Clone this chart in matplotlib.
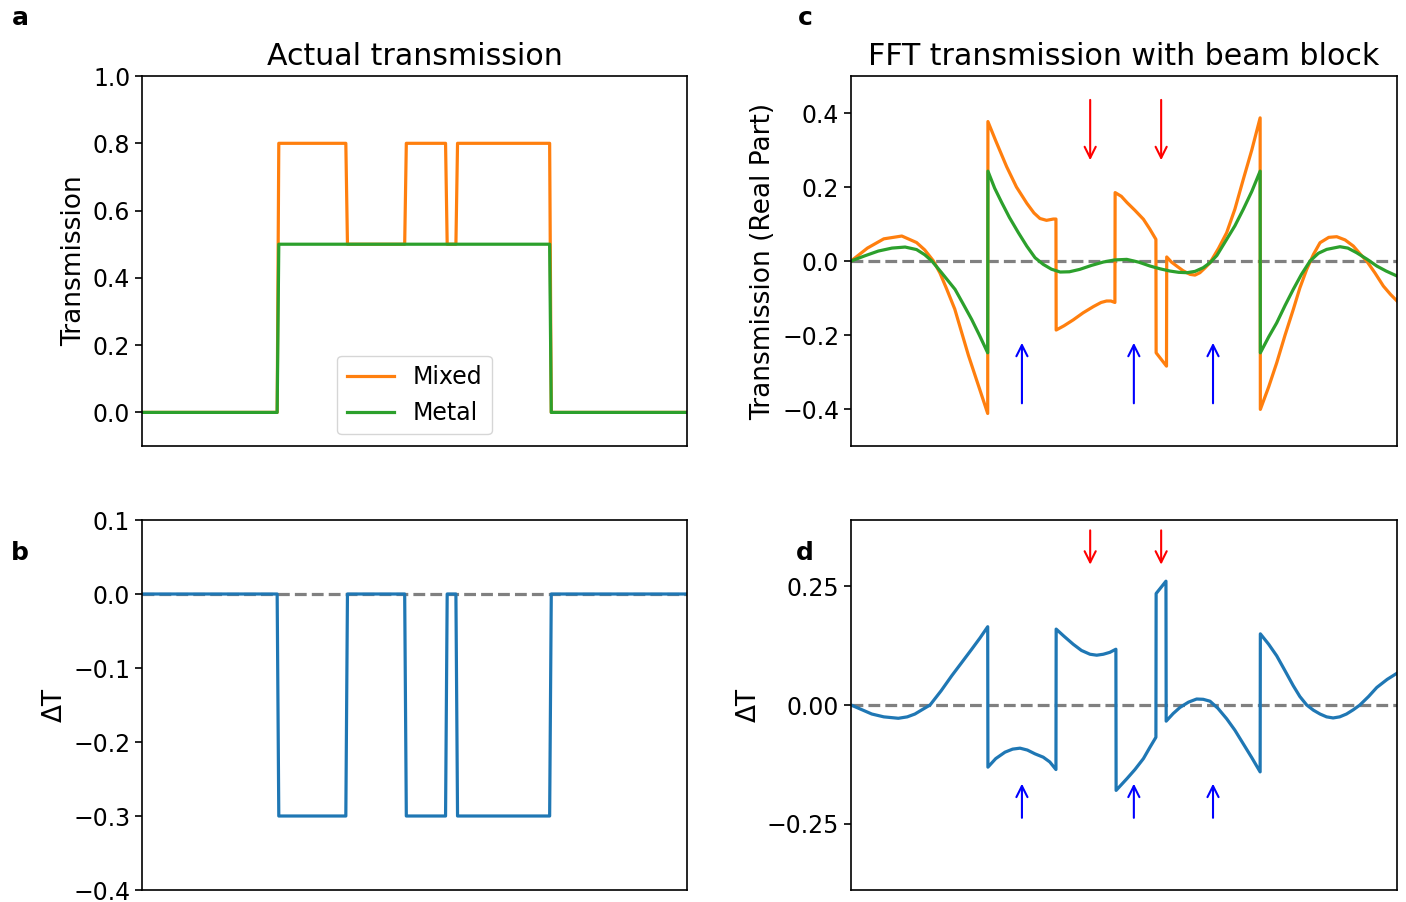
import numpy as np
import matplotlib
matplotlib.use("Agg")
import matplotlib.pyplot as plt

# ---- data (x is position across the sample, 0..1) ----

# panel a: actual transmission
x_actual = [0.0, 0.248, 0.251, 0.374, 0.377, 0.482, 0.485, 0.557, 0.560,
            0.576, 0.579, 0.748, 0.751, 1.0]
mixed_actual = [0.0, 0.0, 0.8, 0.8, 0.5, 0.5, 0.8, 0.8, 0.5,
                0.5, 0.8, 0.8, 0.0, 0.0]
metal_actual = [0.0, 0.0, 0.5, 0.5, 0.5, 0.5, 0.5, 0.5, 0.5,
                0.5, 0.5, 0.5, 0.0, 0.0]

# panel b: difference metal - mixed
delta_actual = [0.0, 0.0, -0.3, -0.3, 0.0, 0.0, -0.3, -0.3, 0.0,
                0.0, -0.3, -0.3, 0.0, 0.0]

# panel c: FFT transmission with beam block (real part)
x_mixed_fft = [0.0, 0.03, 0.06, 0.093, 0.12, 0.135, 0.151, 0.163, 0.175, 0.19, 0.215, 0.2503,
               0.2507, 0.265, 0.285, 0.303, 0.322, 0.335, 0.346, 0.358, 0.3705, 0.3753,
               0.3757, 0.39, 0.407, 0.425, 0.444, 0.458, 0.468, 0.476, 0.4833,
               0.4837, 0.495, 0.5055, 0.52, 0.5355, 0.547, 0.5584,
               0.5588, 0.5778,
               0.5782, 0.587, 0.5965, 0.608, 0.621, 0.63, 0.639, 0.648, 0.6575,
               0.673, 0.688, 0.703, 0.7185, 0.734, 0.7493,
               0.7497, 0.765, 0.7797, 0.795, 0.81, 0.822, 0.8346, 0.847, 0.859,
               0.875, 0.8896, 0.905, 0.92, 0.932, 0.9445, 0.96, 0.975, 0.988, 1.0]
y_mixed_fft = [0.0, 0.035, 0.060, 0.0676, 0.050, 0.03, 0.0, -0.033, -0.075, -0.13, -0.255, -0.412,
               0.377, 0.325, 0.255, 0.2, 0.156, 0.13, 0.115, 0.110, 0.1135, 0.1135,
               -0.1865, -0.175, -0.159, -0.14, -0.123, -0.112, -0.108, -0.108, -0.112,
               0.185, 0.175, 0.158, 0.137, 0.113, 0.087, 0.0586,
               -0.248, -0.284,
               0.011, -0.003, -0.0135, -0.026, -0.036, -0.038, -0.0315, -0.019, -0.0045,
               0.034, 0.0766, 0.14, 0.221, 0.30, 0.387,
               -0.401, -0.34, -0.275, -0.2, -0.131, -0.073, -0.0225, 0.018, 0.0495,
               0.064, 0.0658, 0.057, 0.0405, 0.02, 0.0, -0.033, -0.0676, -0.09, -0.108]

x_metal_fft = [0.0, 0.025, 0.05, 0.075, 0.099, 0.12, 0.135, 0.148, 0.165, 0.1905, 0.205, 0.221,
               0.235, 0.2503,
               0.2507, 0.263, 0.276, 0.29, 0.3065, 0.322, 0.337, 0.352, 0.367, 0.383, 0.40,
               0.419, 0.44, 0.462, 0.483, 0.505, 0.527, 0.5476, 0.566, 0.584, 0.60, 0.615,
               0.63, 0.645, 0.6575, 0.67, 0.688, 0.703, 0.7185, 0.734, 0.7493,
               0.7497, 0.765, 0.7797, 0.795, 0.81, 0.825, 0.8407, 0.856, 0.8712, 0.8956,
               0.91, 0.926, 0.945, 0.963, 0.98, 1.0]
y_metal_fft = [0.0, 0.014, 0.027, 0.035, 0.0378, 0.031, 0.017, 0.0, -0.03, -0.0766, -0.115, -0.158,
               -0.2, -0.248,
               0.243, 0.197, 0.158, 0.118, 0.0766, 0.04, 0.009, -0.009, -0.022, -0.0297, -0.029,
               -0.0225, -0.012, -0.0027, 0.003, 0.0045, -0.003, -0.0135, -0.021, -0.027, -0.0305, -0.0315,
               -0.028, -0.018, -0.0045, 0.015, 0.0586, 0.095, 0.14, 0.188, 0.243,
               -0.248, -0.205, -0.167, -0.12, -0.0766, -0.036, 0.0, 0.021, 0.0315, 0.0387,
               0.035, 0.0225, 0.005, -0.0135, -0.027, -0.0405]

# panel d: difference of the filtered transmissions
x_delta_fft = [0.0, 0.02, 0.038, 0.06, 0.0866, 0.103, 0.117, 0.13, 0.1447, 0.165, 0.1844,
               0.203, 0.221, 0.236, 0.2503,
               0.2507, 0.265, 0.282, 0.296, 0.3095, 0.323, 0.337, 0.352, 0.364, 0.3753,
               0.3757, 0.39, 0.407, 0.422, 0.4377, 0.45, 0.462, 0.474, 0.4851,
               0.4855, 0.5055, 0.52, 0.5355, 0.547, 0.5584,
               0.5588, 0.5768,
               0.5772, 0.59, 0.6026, 0.618, 0.633, 0.645, 0.6575, 0.672, 0.688, 0.703,
               0.7185, 0.734, 0.7493,
               0.7497, 0.765, 0.7797, 0.795, 0.81, 0.822, 0.8346, 0.847, 0.859, 0.871,
               0.883, 0.895, 0.9075, 0.92, 0.932, 0.948, 0.963, 0.982, 1.0]
y_delta_fft = [0.0, -0.01, -0.019, -0.025, -0.028, -0.025, -0.019, -0.01, 0.0, 0.03, 0.0616,
               0.09, 0.1176, 0.141, 0.165,
               -0.131, -0.113, -0.0994, -0.093, -0.091, -0.095, -0.103, -0.11, -0.12, -0.136,
               0.16, 0.145, 0.128, 0.115, 0.107, 0.105, 0.107, 0.111, 0.1176,
               -0.18, -0.155, -0.136, -0.113, -0.09, -0.068,
               0.235, 0.261,
               -0.034, -0.018, -0.005, 0.006, 0.0126, 0.012, 0.008, -0.007, -0.029, -0.053,
               -0.082, -0.111, -0.141,
               0.15, 0.128, 0.1036, 0.072, 0.0406, 0.018, 0.0, -0.011, -0.019, -0.025,
               -0.0273, -0.025, -0.019, -0.01, 0.0, 0.018, 0.037, 0.054, 0.067]

# arrow positions
red_arrows_x = [0.438, 0.568]
blue_arrows_x = [0.313, 0.518, 0.663]

orange = "#ff7f0e"
green = "#2ca02c"
blue = "#1f77b4"

plt.rcParams["font.family"] = "DejaVu Sans"
plt.rcParams["axes.linewidth"] = 1.2

fig = plt.figure(figsize=(14.06, 9.02), dpi=100)
ax_a = fig.add_axes([0.101, 0.5055, 0.3876, 0.4102])
ax_b = fig.add_axes([0.101, 0.0133, 0.3876, 0.4102])
ax_c = fig.add_axes([0.6053, 0.5055, 0.3883, 0.4102])
ax_d = fig.add_axes([0.6053, 0.0133, 0.3883, 0.4102])

lw = 2.3

# a
ax_a.plot(x_actual, mixed_actual, color=orange, lw=lw, label="Mixed")
ax_a.plot(x_actual, metal_actual, color=green, lw=lw, label="Metal")
ax_a.set_ylim(-0.1, 1.0)
ax_a.set_yticks([0.0, 0.2, 0.4, 0.6, 0.8, 1.0])
ax_a.set_ylabel("Transmission", fontsize=19)
ax_a.set_title("Actual transmission", fontsize=21.6, pad=8)
ax_a.legend(loc="lower center", fontsize=17, handlelength=2.0)

# b
ax_b.axhline(0, color="gray", ls="--", lw=lw)
ax_b.plot(x_actual, delta_actual, color=blue, lw=lw)
ax_b.set_ylim(-0.4, 0.1)
ax_b.set_yticks([0.1, 0.0, -0.1, -0.2, -0.3, -0.4])
ax_b.set_ylabel("ΔT", fontsize=19)

# c
ax_c.axhline(0, color="gray", ls="--", lw=lw)
ax_c.plot(x_mixed_fft, y_mixed_fft, color=orange, lw=lw)
ax_c.plot(x_metal_fft, y_metal_fft, color=green, lw=lw)
ax_c.set_ylim(-0.5, 0.5)
ax_c.set_yticks([-0.4, -0.2, 0.0, 0.2, 0.4])
ax_c.set_ylabel("Transmission (Real Part)", fontsize=19)
ax_c.set_title("FFT transmission with beam block", fontsize=21.6, pad=8)
for xa in red_arrows_x:
    ax_c.annotate("", xy=(xa, 0.265), xytext=(xa, 0.443),
                  arrowprops=dict(arrowstyle="->", color="red", lw=1.5, mutation_scale=20))
for xa in blue_arrows_x:
    ax_c.annotate("", xy=(xa, -0.2135), xytext=(xa, -0.392),
                  arrowprops=dict(arrowstyle="->", color="blue", lw=1.5, mutation_scale=20))

# d
ax_d.axhline(0, color="gray", ls="--", lw=lw)
ax_d.plot(x_delta_fft, y_delta_fft, color=blue, lw=lw)
ax_d.set_ylim(-0.39, 0.39)
ax_d.set_yticks([-0.25, 0.0, 0.25])
ax_d.set_ylabel("ΔT", fontsize=19)
for xa in red_arrows_x:
    ax_d.annotate("", xy=(xa, 0.29), xytext=(xa, 0.374),
                  arrowprops=dict(arrowstyle="->", color="red", lw=1.5, mutation_scale=20))
for xa in blue_arrows_x:
    ax_d.annotate("", xy=(xa, -0.16), xytext=(xa, -0.2437),
                  arrowprops=dict(arrowstyle="->", color="blue", lw=1.5, mutation_scale=20))

for ax in (ax_a, ax_b, ax_c, ax_d):
    ax.set_xlim(0, 1)
    ax.set_xticks([])
    ax.tick_params(axis="y", labelsize=17, length=5, width=1.2)

for letter, (fx, fy) in zip("abcd", [(0.0142, 0.980), (0.0142, 0.387),
                                     (0.5725, 0.980), (0.5725, 0.387)]):
    fig.text(fx, fy, letter, fontsize=18, fontweight="bold", ha="center", va="center")

fig.savefig("out.png", dpi=100)
